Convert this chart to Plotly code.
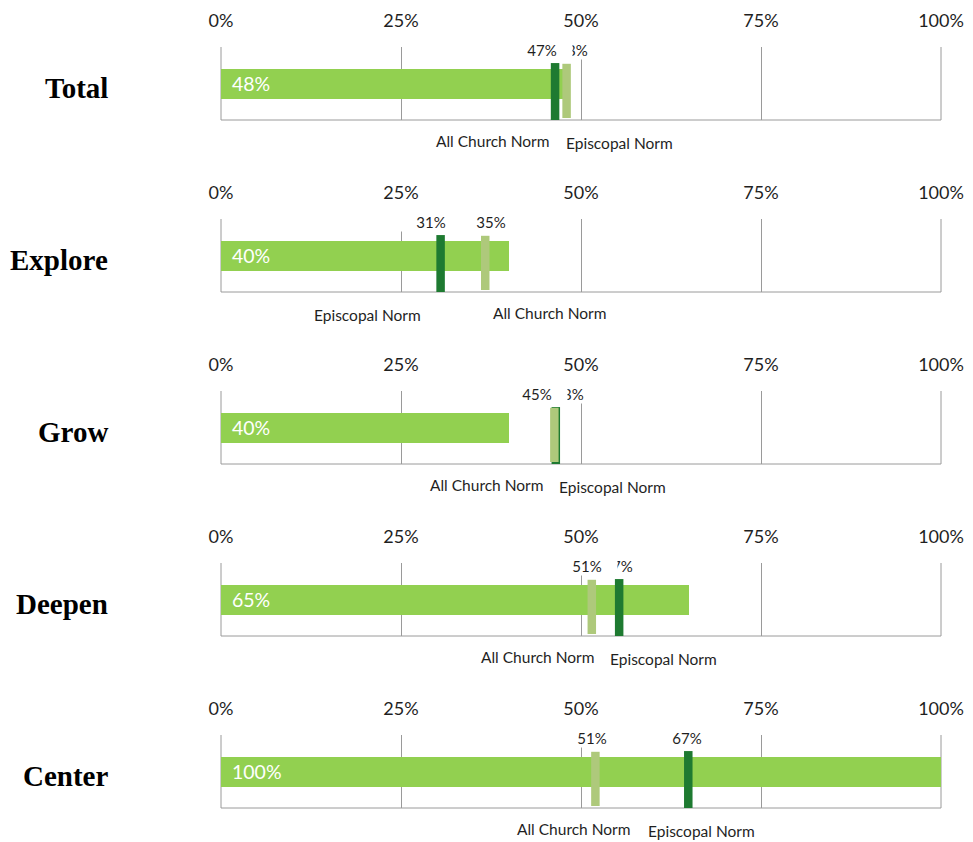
import plotly.graph_objects as go

# ---------------- data ----------------
categories = ["Total", "Explore", "Grow", "Deepen", "Center"]
scores = [48, 40, 40, 65, 100]
all_church_norm = [47, 35, 45, 51, 51]
episcopal_norm = [48, 31, 48, 57, 67]
# where the norm markers are drawn on the 0-100 scale
all_church_pos = [46.4, 36.7, 46.3, 51.5, 52.0]
episcopal_pos = [48.0, 30.5, 46.5, 55.3, 64.9]
tick_vals = [0, 25, 50, 75, 100]
tick_text = ["0%", "25%", "50%", "75%", "100%"]

# ---------------- style / layout ----------------
W, H = 973, 842
GREEN = "#92D050"
DARK = "#1E7A31"
LIGHT = "#AEC97B"
GRID = "#9A9A9A"
TXT = "#1F1F1F"
FONT = "Lato"
all_church_is_dark = [True, False, False, False, False]
# label placement (axis units)
ac_value_x = [44.6, 37.5, 43.9, 50.9, 51.5]
ep_value_x = [48.9, 29.2, 48.3, 55.1, 64.7]
ac_name_x = [37.8, 45.7, 36.9, 44.0, 49.0]
ep_name_x = [55.4, 20.3, 54.4, 61.5, 66.7]

PANEL_STEP = 172
GRID_TOP, GRID_BOT = 47, 120
X0, X1 = 221, 941
PLOT_H = GRID_BOT - GRID_TOP

fig = go.Figure()
layout = dict(
    width=W, height=H, margin=dict(l=0, r=0, t=0, b=0, pad=0), autosize=False,
    paper_bgcolor="white", plot_bgcolor="rgba(0,0,0,0)", showlegend=False,
    barmode="overlay",
)
annotations = []
shapes = []

for k, cat in enumerate(categories):
    xa = "x" if k == 0 else f"x{k+1}"
    ya = "y" if k == 0 else f"y{k+1}"
    top = GRID_TOP + PANEL_STEP * k
    bot = GRID_BOT + PANEL_STEP * k
    y_lo, y_hi = 1 - bot / H, 1 - top / H
    layout["xaxis" if k == 0 else f"xaxis{k+1}"] = dict(
        domain=[X0 / W, X1 / W], range=[0, 100], anchor=ya, side="top",
        tickvals=tick_vals, ticktext=tick_text, showgrid=True, gridcolor=GRID,
        gridwidth=1, zeroline=False, showline=False, ticks="", automargin=False,
        tickfont=dict(family=FONT, size=18, color=TXT), ticklabelstandoff=15,
        fixedrange=True,
    )
    layout["yaxis" if k == 0 else f"yaxis{k+1}"] = dict(
        domain=[y_lo, y_hi], range=[0, 1], anchor=xa, automargin=False,
        showticklabels=False, showgrid=False, zeroline=False, showline=False,
        ticks="", fixedrange=True,
    )
    # frame lines at 0%, 100% and the baseline
    for xe in (X0 / W, X1 / W):
        shapes.append(dict(type="line", xref="paper", yref="paper", x0=xe, x1=xe,
                           y0=y_lo, y1=y_hi, line=dict(color=GRID, width=1),
                           layer="below"))
    shapes.append(dict(type="line", xref="paper", yref="paper", x0=X0 / W, x1=X1 / W,
                       y0=y_lo, y1=y_lo, line=dict(color=GRID, width=1),
                       layer="below"))

    # main score bar
    fig.add_trace(go.Bar(
        x=[scores[k]], y=[0.4935], base=0, width=0.411, orientation="h",
        marker=dict(color=GREEN, line=dict(width=0)), xaxis=xa, yaxis=ya,
        hoverinfo="skip",
    ))

    # norm markers: dark drawn first, light on top
    markers = [
        (all_church_pos[k], all_church_is_dark[k]),
        (episcopal_pos[k], not all_church_is_dark[k]),
    ]
    markers.sort(key=lambda m: 0 if m[1] else 1)
    for pos, is_dark in markers:
        fig.add_trace(go.Scatter(
            x=[pos, pos], y=[0, 0.78] if is_dark else [0.027, 0.77],
            mode="lines", line=dict(color=DARK if is_dark else LIGHT, width=8.5),
            xaxis=xa, yaxis=ya, hoverinfo="skip", cliponaxis=False,
        ))

    # row title
    annotations.append(dict(
        text=cat, xref="paper", yref="paper", x=110 / W,
        y=1 - (88 + PANEL_STEP * k) / H, xanchor="right", yanchor="middle",
        showarrow=False,
        font=dict(family="Liberation Serif", size=29, color="black", weight="bold"),
    ))
    # score label inside bar
    annotations.append(dict(
        text=f"{scores[k]}%", xref=xa, yref=ya, x=0, y=0.4935,
        xanchor="left", yanchor="middle", xshift=9, showarrow=False,
        font=dict(family=FONT, size=19.5, color="white"),
    ))
    # norm names below the baseline
    annotations.append(dict(
        text="All Church Norm", xref=xa, yref=ya, x=ac_name_x[k], y=0,
        yshift=-(141 - GRID_BOT), xanchor="center", yanchor="middle",
        showarrow=False, font=dict(family=FONT, size=15.5, color=TXT),
    ))
    annotations.append(dict(
        text="Episcopal Norm", xref=xa, yref=ya, x=ep_name_x[k], y=0,
        yshift=-(143 - GRID_BOT), xanchor="center", yanchor="middle",
        showarrow=False, font=dict(family=FONT, size=15.5, color=TXT),
    ))
    # value labels (white boxes; right one first so left one sits on top)
    vals = [(ac_value_x[k], all_church_norm[k]), (ep_value_x[k], episcopal_norm[k])]
    vals.sort(key=lambda v: -v[0])
    for vx, v in vals:
        annotations.append(dict(
            text=f"{v}%", xref=xa, yref=ya, x=vx,
            y=(GRID_BOT - 50) / PLOT_H, xanchor="center", yanchor="middle",
            showarrow=False, bgcolor="white", width=60, height=18, borderpad=0,
            font=dict(family=FONT, size=15, color=TXT),
        ))

layout["annotations"] = annotations
layout["shapes"] = shapes
fig.update_layout(**layout)

fig.write_html(
    "out.html",
    config={"displayModeBar": False},
    post_script="document.body.style.margin='0';document.body.style.overflow='hidden';",
)
